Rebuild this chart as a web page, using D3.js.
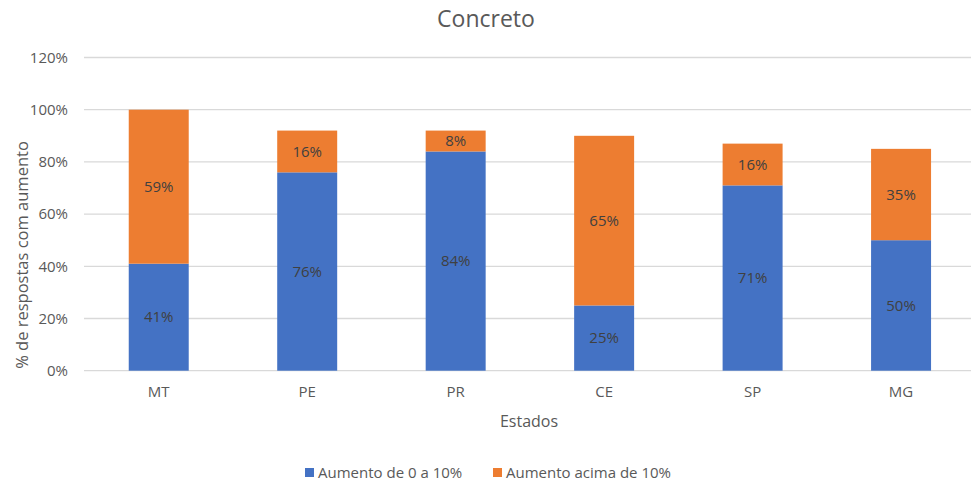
<!DOCTYPE html>
<html>
<head>
<meta charset="utf-8">
<script src="https://cdn.jsdelivr.net/npm/d3@7"></script>
<style>
  body { margin: 0; background: #fff; }
  svg { font-family: "Open Sans", "Noto Sans", sans-serif; }
</style>
</head>
<body>
<svg id="viz" width="971" height="487"></svg>
<script>
// data
var estados = ["MT", "PE", "PR", "CE", "SP", "MG"];
var ate10 = [41, 76, 84, 25, 71, 50];      // Aumento de 0 a 10%
var acima10 = [59, 16, 8, 65, 16, 35];     // Aumento acima de 10%
var yTicks = [0, 20, 40, 60, 80, 100, 120];
var seriesNames = ["Aumento de 0 a 10%", "Aumento acima de 10%"];
var colors = ["#4472C4", "#ED7D31"];

var svg = d3.select("#viz");
var x = d3.scaleBand().domain(estados).range([84.5, 975.3]).paddingInner(0.596).paddingOuter(0.298);
var y = d3.scaleLinear().domain([0, 120]).range([370.7, 57.5]);

// gridlines
svg.append("g").selectAll("line")
    .data(yTicks)
    .enter().append("line")
    .attr("x1", 84).attr("x2", 971)
    .attr("y1", function (d) { return y(d); })
    .attr("y2", function (d) { return y(d); })
    .attr("stroke", "#d9d9d9")
    .attr("stroke-width", 1.3);

// y tick labels
var yAxis = svg.append("g").attr("transform", "translate(68,0)")
    .call(d3.axisLeft(y).tickValues(yTicks).tickFormat(function (d) { return d + "%"; }).tickSize(0).tickPadding(0));
yAxis.select(".domain").remove();
yAxis.selectAll("text").attr("fill", "#595959").style("font-size", "15px")
    .style("font-family", "'Open Sans', sans-serif");

// x tick labels
var xAxis = svg.append("g").attr("transform", "translate(0,386)")
    .call(d3.axisBottom(x).tickSize(0).tickPadding(0));
xAxis.select(".domain").remove();
xAxis.selectAll("text").attr("fill", "#595959").style("font-size", "15px")
    .style("font-family", "'Open Sans', sans-serif");

// stacked bars
var rows = estados.map(function (e, i) { return { estado: e, a: ate10[i], b: acima10[i] }; });
var stack = d3.stack().keys(["a", "b"])(rows);

var layer = svg.append("g").selectAll("g")
    .data(stack)
    .enter().append("g")
    .attr("fill", function (d, i) { return colors[i]; });

layer.selectAll("rect")
    .data(function (d) { return d; })
    .enter().append("rect")
    .attr("x", function (d) { return x(d.data.estado); })
    .attr("width", x.bandwidth())
    .attr("y", function (d) { return y(d[1]); })
    .attr("height", function (d) { return y(d[0]) - y(d[1]); });

// data labels
layer.selectAll("text")
    .data(function (d) { return d; })
    .enter().append("text")
    .attr("x", function (d) { return x(d.data.estado) + x.bandwidth() / 2; })
    .attr("y", function (d) { return (y(d[0]) + y(d[1])) / 2; })
    .attr("dy", "0.35em")
    .attr("text-anchor", "middle")
    .attr("fill", "#404040")
    .style("font-size", "15px")
    .text(function (d) { return (d[1] - d[0]) + "%"; });

// title
svg.append("text")
    .attr("x", 486).attr("y", 27)
    .attr("text-anchor", "middle")
    .attr("fill", "#595959")
    .style("font-size", "23px")
    .text("Concreto");

// axis titles
svg.append("text")
    .attr("x", 529).attr("y", 427)
    .attr("text-anchor", "middle")
    .attr("fill", "#595959")
    .style("font-size", "16px")
    .text("Estados");

svg.append("text")
    .attr("transform", "translate(28,255) rotate(-90)")
    .attr("text-anchor", "middle")
    .attr("fill", "#595959")
    .style("font-size", "16.5px")
    .text("% de respostas com aumento");

// legend
var legendX = [305, 493];
var legend = svg.append("g").selectAll("g")
    .data(seriesNames)
    .enter().append("g")
    .attr("transform", function (d, i) { return "translate(" + legendX[i] + ",473)"; });
legend.append("rect")
    .attr("x", 0).attr("y", -5)
    .attr("width", 9).attr("height", 9)
    .attr("fill", function (d, i) { return colors[i]; });
legend.append("text")
    .attr("x", 13).attr("dy", "0.35em")
    .attr("fill", "#595959")
    .style("font-size", "15px")
    .text(function (d) { return d; });
</script>
</body>
</html>
